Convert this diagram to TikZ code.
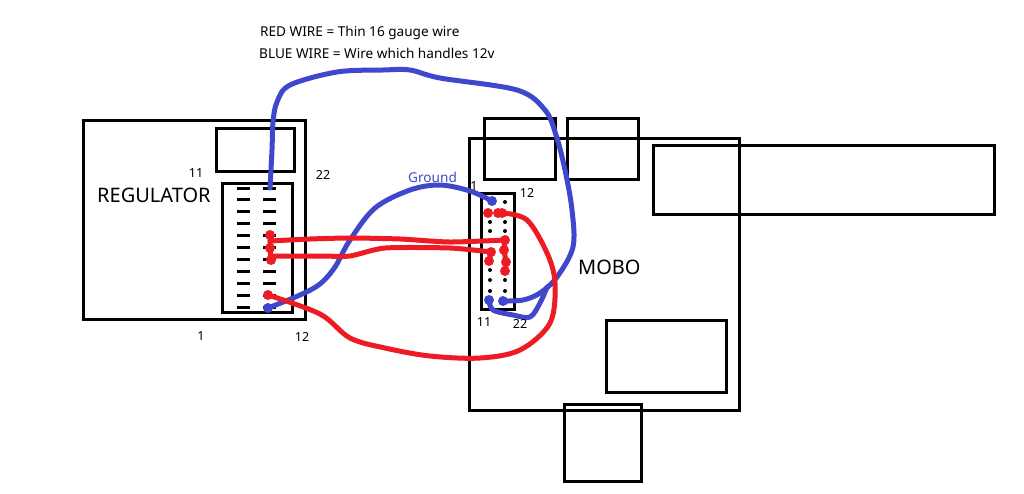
\documentclass[tikz,border=0pt]{standalone}
\usepackage{fontspec}
\setmainfont{Noto Sans}
\definecolor{wireblue}{RGB}{63,72,204}
\definecolor{wirered}{RGB}{237,28,36}
\tikzset{
  box/.style={draw=black, line width=3pt},
  bluewire/.style={draw=wireblue, line width=5pt, line cap=round, line join=round},
  redwire/.style={draw=wirered, line width=5pt, line cap=round, line join=round},
  bluepin/.style={circle, fill=wireblue, inner sep=0pt, minimum size=10pt},
  redpin/.style={circle, fill=wirered, inner sep=0pt, minimum size=10pt},
  label/.style={inner sep=0pt, text=black},
  smalllabel/.style={label, font=\fontsize{12.5}{12.5}\selectfont},
  keylabel/.style={label, anchor=west, font=\fontsize{13.6}{13.6}\selectfont},
  biglabel/.style={label, anchor=west, font=\fontsize{20}{20}\selectfont},
}
\begin{document}
\begin{tikzpicture}[x=1pt, y=-1pt]
    \useasboundingbox (0,0) rectangle (1024,493);

    % regulator
    \draw[box] (83,120) rectangle (305,319);
    \draw[box] (216,128) rectangle (294,171);
    \draw[box] (222,183) rectangle (292,312);

    % mobo
    \draw[box] (469,138) rectangle (739,410);
    \draw[box] (484,118) rectangle (555,179);
    \draw[box] (567,118) rectangle (638,179);
    \draw[box] (653,145) rectangle (994,214);
    \draw[box] (606,320) rectangle (726,392);
    \draw[box] (564,404) rectangle (641,481);
    \draw[box] (481,193) rectangle (514,309);

    % pins on the regulator
    \foreach \i in {0,...,10} {
        \pgfmathsetmacro\pinY{188+11.9*\i}
        \draw[black, line width=3pt] (237,\pinY) -- ++(13,0);
        \draw[black, line width=3pt] (263,\pinY) -- ++(13,0);
    }

    % pins on the mobo
    \foreach \y in {202,213,222,231,240,250,260,270,280,291,301} {
        \fill[black] (490,\y) circle (2pt);
        \fill[black] (505,\y) circle (2pt);
    }

    % wire ends
    \coordinate (regTop) at (270,188);
    \coordinate (regGnd) at (268,308);
    \coordinate (regA) at (270,235);
    \coordinate (regB) at (270,248);
    \coordinate (regC) at (271,260);
    \coordinate (regD) at (268,295);
    \coordinate (moboGnd) at (492,201);
    \coordinate (moboA) at (488,213);
    \coordinate (moboB) at (502,213);
    \coordinate (moboB2) at (498,213);
    \coordinate (moboC) at (505,240);
    \coordinate (moboD) at (491,252);
    \coordinate (moboE) at (489,261);
    \coordinate (moboF) at (504,250);
    \coordinate (moboG) at (506,262);
    \coordinate (moboH) at (505,271);
    \coordinate (moboJ) at (489,300);
    \coordinate (moboK) at (503,301);

    % blue wires
    \draw[bluewire] plot[smooth, tension=.55] coordinates {(regTop) (272,150) (273,122) (277,102) (290,85)
        (337,72) (383,70) (410,70) (440,78) (517,90) (545,110) (556,135) (565,170) (572,210) (573,247)
        (557,277) (540,293) (523,300) (moboK)};
    \draw[bluewire] plot[smooth, tension=.55] coordinates {(regGnd) (300,295) (320,284) (335,267) (350,240)
        (375,208) (410,190) (440,185) (470,191) (moboGnd)};
    \draw[bluewire] plot[smooth, tension=.55] coordinates {(moboJ) (493,310) (513,315) (530,317) (540,303) (547,287)};

    % red wires
    \draw[redwire] plot[smooth, tension=.4] coordinates {(270,241) (310,239) (350,238) (400,239) (450,242) (moboC)};
    \draw[redwire] plot[smooth, tension=.4] coordinates {(271,256) (320,256) (350,256) (385,248) (450,248) (moboD)};
    \draw[redwire] plot[smooth, tension=.55] coordinates {(regD) (320,314) (350,338) (385,348) (430,356)
        (480,358) (520,350) (550,323) (555,283) (547,253) (527,220) (moboB)};
    \draw[redwire] (moboD) -- (moboE);
    \draw[redwire] (moboC) -- (moboF) -- (moboG) -- (moboH);
    \draw[redwire] (regA) -- (regB) -- (regC);

    % wire dots
    \foreach \p in {moboGnd,moboJ,moboK,regGnd} \node[bluepin] at (\p) {};
    \foreach \p in {regA,regB,regC,regD,moboA,moboB,moboB2,moboC,moboD,moboE,moboF,moboG,moboH} \node[redpin] at (\p) {};

    % labels
    \node[keylabel] (keyred) at (260,33) {RED WIRE = Thin 16 gauge wire};
    \node[keylabel] (keyblue) at (259,53) {BLUE WIRE = Wire which handles 12v};
    \node[biglabel] (regname) at (97,195) {REGULATOR};
    \node[biglabel] (moboname) at (578,267) {MOBO};
    \node[keylabel, text=wireblue] (gndname) at (408,177) {Ground};
    \node[smalllabel] (regpinA) at (196,173) {11};
    \node[smalllabel] (regpinB) at (323,175) {22};
    \node[smalllabel] (regpinC) at (201,336) {1};
    \node[smalllabel] (regpinD) at (302,337) {12};
    \node[smalllabel] (mobopinA) at (474,186) {1};
    \node[smalllabel] (mobopinB) at (527,193) {12};
    \node[smalllabel] (mobopinC) at (484,322) {11};
    \node[smalllabel] (mobopinD) at (520,324) {22};

\end{tikzpicture}
\end{document}
